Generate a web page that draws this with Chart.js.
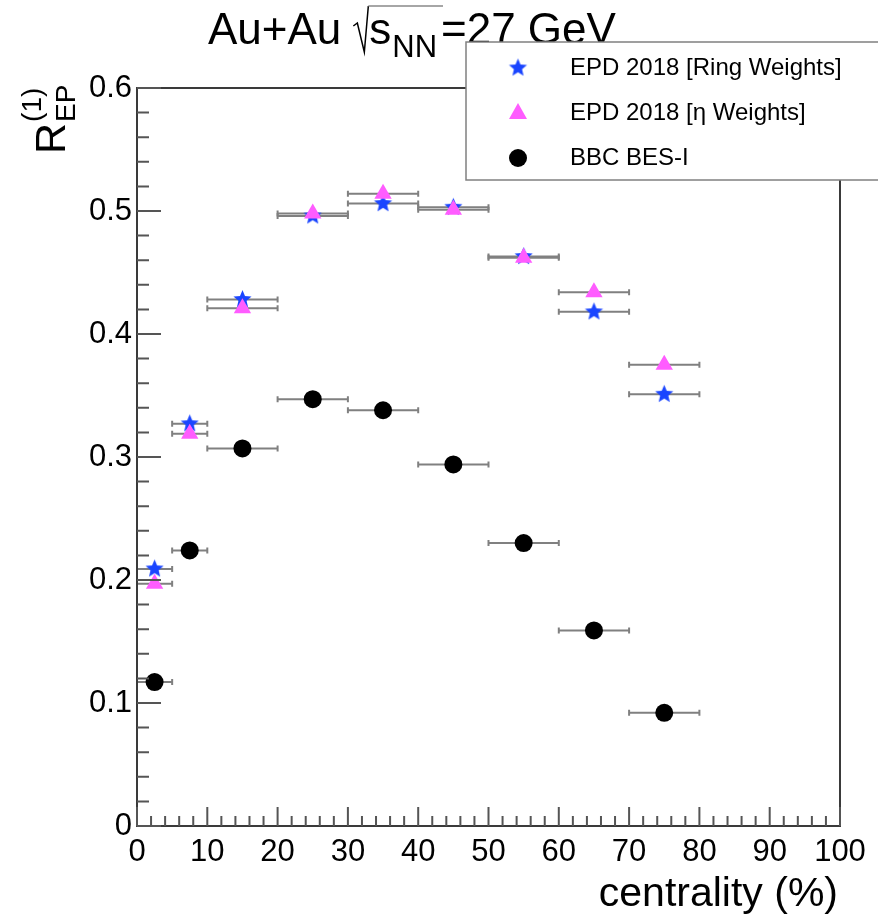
<!DOCTYPE html>
<html>
<head>
<meta charset="utf-8">
<script src="https://cdn.jsdelivr.net/npm/chart.js@4.4.0/dist/chart.umd.min.js"></script>
<style>
  html, body { margin: 0; padding: 0; background: #fff; }
  #wrap { width: 878px; height: 920px; }
</style>
</head>
<body>
<div id="wrap"><canvas id="rep" width="878" height="920"></canvas></div>
<script>
// centrality bins (bin centre and half width, in %)
const centrality = [2.5, 7.5, 15, 25, 35, 45, 55, 65, 75];
const binHalfWidth = [2.5, 2.5, 5, 5, 5, 5, 5, 5, 5];

// R_EP^(1) values
const epdRing = [0.209, 0.327, 0.428, 0.496, 0.506, 0.503, 0.463, 0.418, 0.351];
const epdEta = [0.197, 0.319, 0.421, 0.498, 0.514, 0.501, 0.462, 0.434, 0.375];
const bbcBes1 = [0.117, 0.224, 0.307, 0.347, 0.338, 0.294, 0.230, 0.159, 0.092];

const seriesNames = ["EPD 2018 [Ring Weights]", "EPD 2018 [\u03b7 Weights]", "BBC BES-I"];

const xTickValues = [0, 10, 20, 30, 40, 50, 60, 70, 80, 90, 100];
const yTickValues = [0, 0.1, 0.2, 0.3, 0.4, 0.5, 0.6];

const FONT = "'Liberation Sans', Arial, Helvetica, sans-serif";
const BLUE = "#1a45ff";
const MAGENTA = "#ff5cff";

// filled 5 point star, like ROOT marker 29
function makeStar(r, color) {
    const c = document.createElement("canvas");
    const s = Math.ceil(r * 2 + 2);
    c.width = s; c.height = s;
    const g = c.getContext("2d");
    g.fillStyle = color;
    g.beginPath();
    for (let i = 0; i < 10; i++) {
        const rad = (i % 2 === 0) ? r : r * 0.45;
        const a = -Math.PI / 2 + i * Math.PI / 5;
        const px = s / 2 + rad * Math.cos(a);
        const py = s / 2 + rad * Math.sin(a);
        if (i === 0) g.moveTo(px, py); else g.lineTo(px, py);
    }
    g.closePath();
    g.fill();
    return c;
}
const starImg = makeStar(9.5, BLUE);

function toPoints(values) {
    return values.map((v, i) => ({
        x: centrality[i],
        y: v,
        xMin: centrality[i] - binHalfWidth[i],
        xMax: centrality[i] + binHalfWidth[i],
    }));
}

// horizontal error bars under the markers
const errorBars = {
    id: "errorBars",
    beforeDatasetsDraw(chart) {
        const ctx = chart.ctx;
        const xs = chart.scales.x, ys = chart.scales.y;
        ctx.save();
        ctx.strokeStyle = "#808080";
        ctx.lineWidth = 2;
        chart.data.datasets.forEach(ds => {
            ds.data.forEach(p => {
                const x0 = xs.getPixelForValue(p.xMin);
                const x1 = xs.getPixelForValue(p.xMax);
                const y = ys.getPixelForValue(p.y);
                ctx.beginPath();
                ctx.moveTo(x0, y); ctx.lineTo(x1, y);
                ctx.moveTo(x0, y - 3); ctx.lineTo(x0, y + 3);
                ctx.moveTo(x1, y - 3); ctx.lineTo(x1, y + 3);
                ctx.stroke();
            });
        });
        ctx.restore();
    }
};

// ROOT style frame, inner ticks, titles and legend
const decorations = {
    id: "decorations",
    afterDraw(chart) {
        const ctx = chart.ctx;
        const a = chart.chartArea;
        const xs = chart.scales.x, ys = chart.scales.y;
        ctx.save();

        // frame
        ctx.strokeStyle = "#3a3a3a";
        ctx.lineWidth = 2;
        ctx.strokeRect(a.left, a.top, a.right - a.left, a.bottom - a.top);

        // y ticks (minor every 0.02)
        ctx.strokeStyle = "#555";
        ctx.beginPath();
        for (let i = 0; i <= 30; i++) {
            const y = ys.getPixelForValue(i * 0.02);
            const len = i % 5 === 0 ? 24 : 12;
            ctx.moveTo(a.left, y); ctx.lineTo(a.left + len, y);
        }
        // x ticks (minor every 2)
        for (let i = 0; i <= 50; i++) {
            const x = xs.getPixelForValue(i * 2);
            const len = i % 5 === 0 ? 19 : 10;
            ctx.moveTo(x, a.bottom); ctx.lineTo(x, a.bottom - len);
        }
        ctx.stroke();

        ctx.fillStyle = "#000";

        // title: Au+Au sqrt(s_NN)=27 GeV
        ctx.font = "44px " + FONT;
        ctx.textBaseline = "alphabetic";
        ctx.textAlign = "left";
        let tx = 208;
        const tb = 44;
        ctx.fillText("Au+Au", tx, tb);
        tx += ctx.measureText("Au+Au").width + 12;
        // root sign
        ctx.strokeStyle = "#000";
        ctx.lineWidth = 1.5;
        ctx.beginPath();
        ctx.moveTo(tx, tb - 18);
        ctx.lineTo(tx + 4, tb - 21);
        ctx.lineTo(tx + 11, tb + 8);
        ctx.lineTo(tx + 15, tb - 38);
        ctx.stroke();
        ctx.strokeStyle = "#888";
        ctx.beginPath();
        ctx.moveTo(tx + 15, tb - 38);
        ctx.lineTo(443, tb - 38);
        ctx.stroke();
        tx += 16;
        ctx.fillText("s", tx, tb);
        tx += ctx.measureText("s").width + 1;
        ctx.font = "31px " + FONT;
        ctx.fillText("NN", tx, tb + 13);
        tx += ctx.measureText("NN").width;
        ctx.font = "44px " + FONT;
        ctx.fillText("=27 GeV", Math.max(tx, 441), tb);

        // x axis title
        ctx.font = "41px " + FONT;
        ctx.textAlign = "right";
        ctx.fillText("centrality (%)", a.right - 2, 906);

        // y axis title: R_EP^(1), rotated
        ctx.save();
        ctx.translate(65, 154);
        ctx.rotate(-Math.PI / 2);
        ctx.textAlign = "left";
        ctx.font = "43px " + FONT;
        ctx.fillText("R", 0, 0);
        const rw = ctx.measureText("R").width;
        ctx.font = "28px " + FONT;
        ctx.fillText("EP", rw + 1, 10);
        ctx.fillText("(1)", rw + 1, -24);
        ctx.restore();

        // legend box
        const lx = 466, ly = 42, lh = 138;
        ctx.fillStyle = "#fff";
        ctx.fillRect(lx, ly, 878 - lx + 10, lh);
        ctx.strokeStyle = "#808080";
        ctx.lineWidth = 1.5;
        ctx.strokeRect(lx, ly, 878 - lx + 10, lh);

        const rows = [68, 113, 158];
        const mx = 518;
        ctx.drawImage(starImg, mx - starImg.width / 2, rows[0] - starImg.height / 2);
        ctx.fillStyle = MAGENTA;
        ctx.beginPath();
        ctx.moveTo(mx, rows[1] - 10);
        ctx.lineTo(mx + 9, rows[1] + 6);
        ctx.lineTo(mx - 9, rows[1] + 6);
        ctx.closePath();
        ctx.fill();
        ctx.fillStyle = "#000";
        ctx.beginPath();
        ctx.arc(mx, rows[2], 9, 0, Math.PI * 2);
        ctx.fill();

        ctx.font = "24px " + FONT;
        ctx.textAlign = "left";
        ctx.textBaseline = "middle";
        seriesNames.forEach((name, i) => ctx.fillText(name, 570, rows[i]));

        ctx.restore();
    }
};

new Chart(document.getElementById("rep"), {
    type: "scatter",
    data: {
        datasets: [
            {
                label: seriesNames[1],
                data: toPoints(epdEta),
                pointStyle: "triangle",
                pointRadius: 10,
                backgroundColor: MAGENTA,
                borderColor: MAGENTA,
                borderWidth: 0,
                order: 0,
            },
            {
                label: seriesNames[0],
                data: toPoints(epdRing),
                pointStyle: starImg,
                backgroundColor: BLUE,
                borderColor: BLUE,
                order: 1,
            },
            {
                label: seriesNames[2],
                data: toPoints(bbcBes1),
                pointStyle: "circle",
                pointRadius: 9,
                backgroundColor: "#000",
                borderColor: "#000",
                borderWidth: 0,
                order: 2,
            },
        ]
    },
    options: {
        responsive: false,
        animation: false,
        devicePixelRatio: 1,
        layout: {padding: {top: 88, right: 38, left: 0, bottom: 0}},
        plugins: {
            legend: {display: false},
            tooltip: {enabled: false},
        },
        scales: {
            x: {
                type: "linear",
                min: 0,
                max: 100,
                afterBuildTicks: s => { s.ticks = xTickValues.map(v => ({value: v})); },
                afterFit: s => { s.height = 94; },
                grid: {display: false, drawTicks: false},
                border: {display: false},
                ticks: {
                    color: "#000",
                    font: {family: FONT, size: 31},
                    padding: 8,
                    maxRotation: 0,
                    autoSkip: false,
                },
            },
            y: {
                type: "linear",
                min: 0,
                max: 0.6,
                afterBuildTicks: s => { s.ticks = yTickValues.map(v => ({value: v})); },
                afterFit: s => { s.width = 137; },
                grid: {display: false, drawTicks: false},
                border: {display: false},
                ticks: {
                    color: "#000",
                    font: {family: FONT, size: 31},
                    padding: 5,
                    callback: v => v === 0 ? "0" : v.toFixed(1),
                },
            },
        },
    },
    plugins: [errorBars, decorations],
});
</script>
</body>
</html>
